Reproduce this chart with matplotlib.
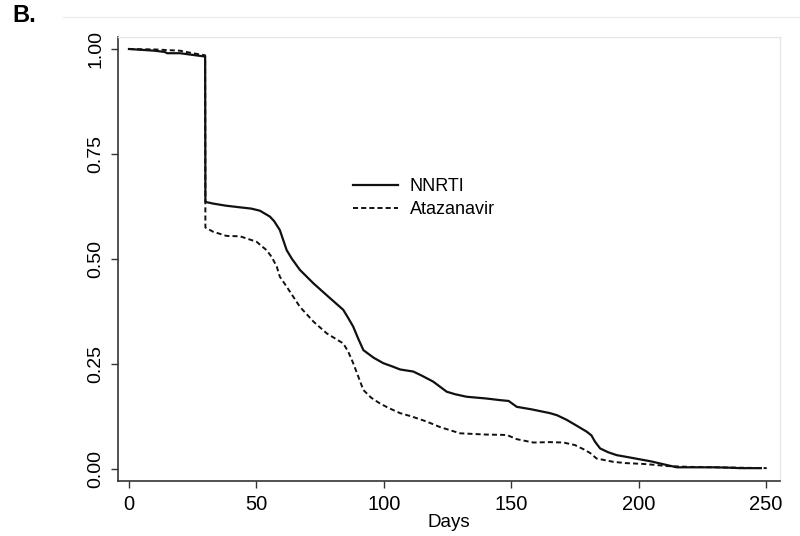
import matplotlib
matplotlib.use('Agg')
import matplotlib.pyplot as plt
from matplotlib.lines import Line2D

plt.rcParams['font.family'] = ['Liberation Sans', 'DejaVu Sans']

# NNRTI (solid)
nnrti_days = [0, 5, 10, 14, 15, 20, 25, 29.9, 30, 33, 38, 43.6, 48, 51.4, 55.3, 57, 59.2, 61.9, 64,
              67.1, 72.4, 78.3, 84.1, 86, 88, 90, 92, 96, 99.8, 103, 106.4, 111.6, 115, 119.4, 124.7,
              128, 132.5, 140, 145.6, 149, 152.2, 158, 165.2, 168, 171.8, 176, 179.6, 181.5, 182.9,
              184.9, 188, 191.4, 196, 200.5, 205, 211, 215, 222, 230, 236, 240, 248]
nnrti_surv = [1.0, 0.998, 0.996, 0.993, 0.99, 0.99, 0.986, 0.982, 0.636, 0.632, 0.627, 0.623, 0.62,
              0.615, 0.601, 0.59, 0.569, 0.521, 0.50, 0.474, 0.442, 0.41, 0.379, 0.36, 0.339, 0.31,
              0.283, 0.265, 0.252, 0.245, 0.237, 0.232, 0.222, 0.208, 0.184, 0.178, 0.172, 0.168,
              0.164, 0.162, 0.148, 0.142, 0.133, 0.128, 0.117, 0.102, 0.089, 0.08, 0.065, 0.049,
              0.04, 0.033, 0.028, 0.023, 0.018, 0.0095, 0.004, 0.004, 0.004, 0.003, 0.002, 0.002]

# Atazanavir (dashed)
ata_days = [0, 10, 20, 25, 29.9, 30, 33, 38.3, 43.6, 50.1, 54, 56, 58, 59.2, 61.9, 67.1, 72.4, 77.6,
            84.1, 86, 88, 90, 92, 95, 98.5, 102, 106.4, 111, 116.8, 122, 129.9, 140, 148.3, 152.2,
            158.7, 165, 170.5, 175, 178.4, 181, 183.5, 190.1, 195, 201.9, 206, 211, 220, 230, 240, 250.3]
ata_surv = [1.0, 0.999, 0.996, 0.99, 0.985, 0.575, 0.565, 0.555, 0.554, 0.541, 0.521, 0.505, 0.482,
            0.458, 0.434, 0.386, 0.351, 0.323, 0.299, 0.28, 0.252, 0.22, 0.188, 0.17, 0.156, 0.145,
            0.133, 0.125, 0.113, 0.1, 0.085, 0.082, 0.081, 0.071, 0.063, 0.064, 0.063, 0.057, 0.047,
            0.038, 0.025, 0.017, 0.014, 0.012, 0.01, 0.007, 0.005, 0.004, 0.003, 0.002]

x_ticks = [0, 50, 100, 150, 200, 250]
y_ticks = [0.0, 0.25, 0.5, 0.75, 1.0]
y_labels = ['0.00', '0.25', '0.50', '0.75', '1.00']

fig = plt.figure(figsize=(8, 5.36), dpi=100)
ax = fig.add_axes([118 / 800, 1 - 481 / 536, (780 - 118) / 800, (481 - 37) / 536])

ax.plot(nnrti_days, nnrti_surv, color='#111111', lw=1.6, label='NNRTI')
ax.plot(ata_days, ata_surv, color='#111111', lw=1.4, dashes=(2.6, 1.6), label='Atazanavir')

ax.set_xlim(-4.3, 255.5)
ax.set_ylim(-0.0286, 1.0286)
ax.set_xticks(x_ticks)
ax.set_xticklabels([str(t) for t in x_ticks], fontsize=14.5)
ax.set_yticks(y_ticks)
ax.set_yticklabels(y_labels, fontsize=14, rotation=90, va='center')
ax.tick_params(direction='out', length=5, width=1, color='#333333', pad=5)
ax.set_xlabel('Days', fontsize=13.5, labelpad=0)

for s in ['left', 'bottom']:
    ax.spines[s].set_color('#333333')
    ax.spines[s].set_linewidth(1.2)
for s in ['top', 'right']:
    ax.spines[s].set_color('#e6e6e6')
    ax.spines[s].set_linewidth(1.0)

ax.legend(loc='upper left', bbox_to_anchor=(353 / 800, 1 - 178 / 536), bbox_transform=fig.transFigure,
          frameon=False, fontsize=13, handlelength=2.5, handletextpad=0.65, labelspacing=0.35,
          borderpad=0, borderaxespad=0)

# faint outer region line
fig.add_artist(Line2D([63 / 800, 1.0], [1 - 17 / 536, 1 - 17 / 536], color='#ececec', lw=1.0))

fig.text(12 / 800, 1 - 16 / 536, 'B.', fontsize=17, fontweight='bold', va='center', ha='left')

plt.savefig('out.png', dpi=100)
